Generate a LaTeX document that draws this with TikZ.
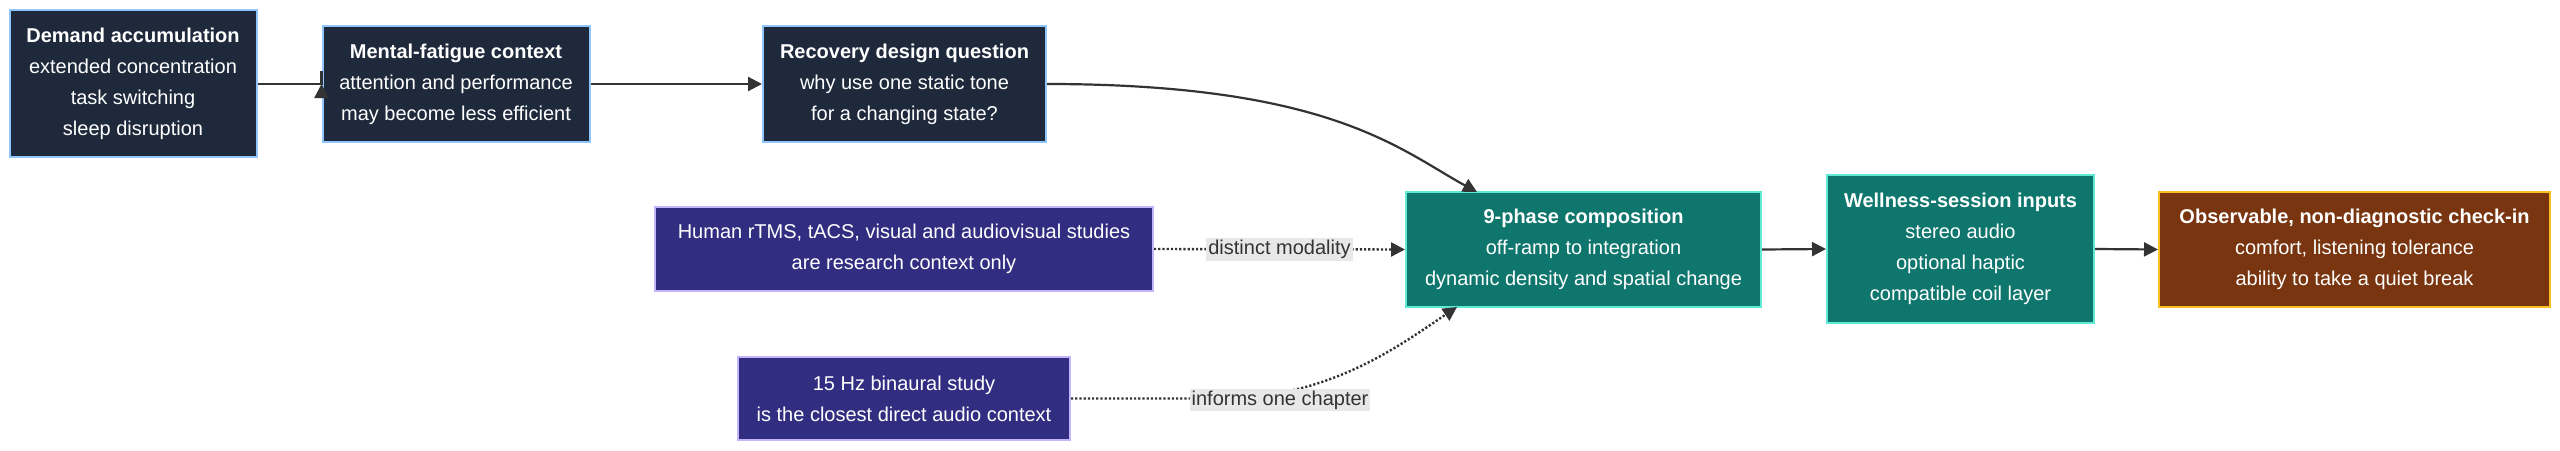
\documentclass[tikz,border=0pt]{standalone}
\usepackage{fontspec}
\setmainfont{Liberation Sans}
\usetikzlibrary{arrows.meta}
\definecolor{navy}{HTML}{1E293B}\definecolor{navyb}{HTML}{93C5FD}
\definecolor{purp}{HTML}{312E81}\definecolor{purpb}{HTML}{C4B5FD}
\definecolor{teal}{HTML}{0F766E}\definecolor{tealb}{HTML}{5EEAD4}
\definecolor{brn}{HTML}{78350F}\definecolor{brnb}{HTML}{FBBF24}
\definecolor{edge}{HTML}{333333}\definecolor{lblbg}{HTML}{E8E8E8}
\begin{document}
\begin{tikzpicture}[x=1pt,y=-1pt,
  box/.style={draw,line width=2pt,text=white,align=center,inner sep=0pt,
    font=\fontsize{20}{31}\selectfont},
  dk/.style={box,fill=navy,draw=navyb},
  pu/.style={box,fill=purp,draw=purpb},
  te/.style={box,fill=teal,draw=tealb},
  br/.style={box,fill=brn,draw=brnb},
  arr/.style={draw=edge,line width=2.2pt,-{Triangle[length=14pt,width=14pt]}},
  dot/.style={arr,dotted,line width=2.4pt},
  lbl/.style={fill=lblbg,text=edge,inner sep=2pt,font=\fontsize{20}{24}\selectfont}]
\useasboundingbox (0,0) rectangle (2560,450);
\node[dk,minimum width=247pt,minimum height=147pt] (a) at (133,83.5)
 {\textbf{Demand accumulation}\\extended concentration\\task switching\\sleep disruption};
\node[dk,minimum width=267pt,minimum height=116pt] (b) at (456,84)
 {\textbf{Mental-fatigue context}\\attention and performance\\may become less efficient};
\node[dk,minimum width=283pt,minimum height=116pt] (c) at (904.5,84)
 {\textbf{Recovery design question}\\why use one static tone\\for a changing state?};
\node[pu,minimum width=498pt,minimum height=84pt] (d) at (904,249)
 {Human rTMS, tACS, visual and audiovisual studies\\are research context only};
\node[pu,minimum width=332pt,minimum height=83pt] (e) at (904,398.5)
 {15 Hz binaural study\\is the closest direct audio context};
\node[te,minimum width=355pt,minimum height=115pt] (f) at (1583.5,249.5)
 {\textbf{9-phase composition}\\off-ramp to integration\\dynamic density and spatial change};
\node[te,minimum width=267pt,minimum height=148pt] (g) at (1960.5,249)
 {\textbf{Wellness-session inputs}\\stereo audio\\optional haptic\\compatible coil layer};
\node[br,minimum width=391pt,minimum height=115pt] (h) at (2354.5,249.5)
 {\textbf{Observable, non-diagnostic check-in}\\comfort, listening tolerance\\ability to take a quiet break};
\draw[arr] (a.east |- b.east) -- (b.east -| b.west) -- (b.west);
\draw[arr] (b.east) -- (c.west);
\coordinate (ft) at (1477,192);
\draw[arr] (c.east) .. controls (1330,84) and (1400,150) .. (ft);
\draw[dot] (d.east) -- node[lbl]{distinct modality} (f.west);
\coordinate (fb) at (1457,307);
\draw[dot] (e.east) -- (1220,398.5) .. controls (1330,398.5) and (1400,345) .. (fb);
\node[lbl] (l2) at (1280,400) {informs one chapter};
\draw[arr] (f.east) -- (g.west);
\draw[arr] (g.east) -- (h.west);
\end{tikzpicture}
\end{document}
